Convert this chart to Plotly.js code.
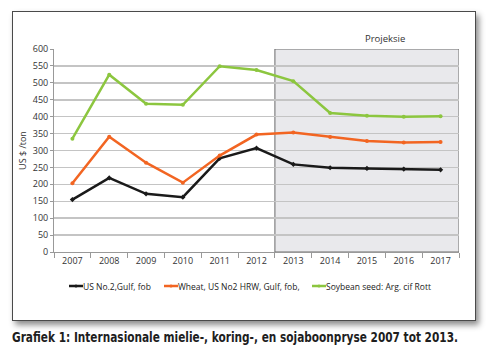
<!DOCTYPE html>
<html>
<head>
<meta charset="utf-8">
<script src="https://cdn.plot.ly/plotly-3.0.1.min.js"></script>
<style>
html,body{margin:0;padding:0;background:#fff;width:490px;height:352px;overflow:hidden;}
#frame{position:absolute;left:12px;top:11px;width:462px;height:308px;border:1.5px solid #4a4a4a;background:#fff;box-shadow:3px 4px 6px rgba(0,0,0,0.45);}
#chart{position:absolute;left:0;top:0;width:490px;height:352px;}
#cap{position:absolute;left:12px;top:329px;font-family:"DejaVu Sans Condensed","Liberation Sans",sans-serif;font-weight:bold;font-size:14px;line-height:16px;color:#1e1e1e;white-space:nowrap;transform-origin:0 0;}
</style>
</head>
<body>
<div id="frame"></div>
<div id="chart"></div>
<div id="cap"></div>
<script>
const years = ["2007","2008","2009","2010","2011","2012","2013","2014","2015","2016","2017"];
const corn = [155, 219, 172, 162, 277, 307, 259, 249, 247, 245, 243];
const wheat = [203, 341, 264, 205, 285, 347, 353, 340, 328, 324, 325];
const soy = [335, 524, 438, 435, 549, 538, 505, 411, 403, 400, 401];
const seriesNames = ["US No.2,Gulf, fob", "Wheat, US No2 HRW, Gulf, fob,", "Soybean seed: Arg. cif Rott"];
const seriesColors = ["#1a1a1a", "#f26522", "#8cc63f"];
const yTicks = [0,50,100,150,200,250,300,350,400,450,500,550,600];
const projectionLabel = "Projeksie";
const caption = "Grafiek 1: Internasionale mielie-, koring-, en sojaboonpryse 2007 tot 2013.";
const yTitle = "US $ /ton";

const font = "Open Sans, Liberation Sans, sans-serif";
const M = {l: 54, r: 31, t: 49, b: 100}, W = 490, H = 352;
const pw = W - M.l - M.r, ph = H - M.t - M.b;
const px = v => (v - M.l) / pw;
const py = v => (H - M.b - v) / ph;

function mk(y, name, color, sym){
  return {x: years, y: y, name: name, type: "scatter", mode: "lines+markers",
    line: {color: color, width: 2.5}, marker: {color: color, size: 4, symbol: sym}};
}
const data = [
  mk(corn, seriesNames[0], seriesColors[0], "diamond"),
  mk(wheat, seriesNames[1], seriesColors[1], "circle"),
  mk(soy, seriesNames[2], seriesColors[2], "circle")
];

// custom legend (line sample + label), positioned like the reference
const legendX = [69, 164, 312];
const legendY = 286;
const shapes = [
  {type: "rect", xref: "x", yref: "y", x0: 5.5, x1: 10.5, y0: 0, y1: 600,
   fillcolor: "#e9e9ec", line: {color: "#6a6a6a", width: 1}, layer: "below"}
];
const annotations = [
  {text: projectionLabel, xref: "x", yref: "paper", x: 8.5, y: 1.0, yanchor: "bottom", yshift: 2,
   showarrow: false, font: {family: font, size: 9.5, color: "#333"}}
];
seriesNames.forEach((n, i) => {
  const x0 = legendX[i];
  shapes.push({type: "line", xref: "paper", yref: "paper", x0: px(x0), x1: px(x0 + 14),
    y0: py(legendY), y1: py(legendY), line: {color: seriesColors[i], width: 2.5}});
  shapes.push({type: "circle", xref: "paper", yref: "paper", x0: px(x0 + 5.5), x1: px(x0 + 8.5),
    y0: py(legendY + 1.5), y1: py(legendY - 1.5), fillcolor: seriesColors[i], line: {width: 0}});
  annotations.push({text: n, xref: "paper", yref: "paper", x: px(x0 + 14), y: py(legendY),
    xanchor: "left", yanchor: "middle", showarrow: false, xshift: -2,
    font: {family: font, size: 8.5, color: "#222"}});
});

const layout = {
  width: W, height: H, margin: M,
  paper_bgcolor: "rgba(0,0,0,0)", plot_bgcolor: "#fff",
  font: {family: font, size: 9, color: "#333"},
  showlegend: false,
  xaxis: {type: "category", showgrid: false, showline: true, linecolor: "#999", linewidth: 1,
    ticks: "outside", tickson: "boundaries", ticklen: 5, tickcolor: "#999",
    tickfont: {family: font, size: 9, color: "#333"}, range: [-0.5, 10.5], fixedrange: true},
  yaxis: {range: [0, 600], tickvals: yTicks, showgrid: true, gridcolor: "#c4c4c4", gridwidth: 1.5,
    showline: true, linecolor: "#999", linewidth: 1, ticks: "outside", ticklen: 3, tickcolor: "#999",
    tickfont: {family: font, size: 9, color: "#333"}, zeroline: false,
    title: {text: yTitle, font: {family: font, size: 9, color: "#333"}, standoff: 4}},
  shapes: shapes,
  annotations: annotations
};
Plotly.newPlot("chart", data, layout, {staticPlot: true, displayModeBar: false});
const cap = document.getElementById("cap");
cap.textContent = caption;
const w = cap.getBoundingClientRect().width;
cap.style.transform = "scaleX(" + (446 / w) + ")";
</script>
</body>
</html>
